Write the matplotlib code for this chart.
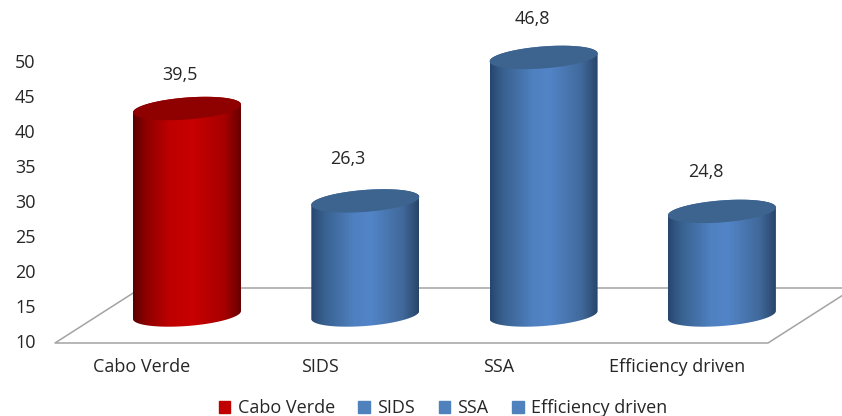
#!/usr/bin/env python3
import numpy as np
import matplotlib
matplotlib.use('Agg')
import matplotlib.pyplot as plt
from matplotlib.colors import LinearSegmentedColormap
from matplotlib.patches import Patch, PathPatch
from matplotlib.path import Path
from matplotlib.transforms import ScaledTranslation

# data
categories = ['Cabo Verde', 'SIDS', 'SSA', 'Efficiency driven']
values = [39.5, 26.3, 46.8, 24.8]
value_labels = ['39,5', '26,3', '46,8', '24,8']
y_ticks = [10, 15, 20, 25, 30, 35, 40, 45, 50]

# figure geometry, in pixels
W, H = 842, 416
LEFT, FLOOR = 55, 343
X0, DX = 142, 178.3      # first category, category spacing
PX_PER_UNIT = 7.0

plt.rcParams['font.family'] = ['Open Sans', 'DejaVu Sans']
plt.rcParams['text.color'] = '#262626'
FONT_SIZE = 13

red_cmap = LinearSegmentedColormap.from_list('red3d', [
    (0, '#5a0000'), (0.12, '#8e0000'), (0.35, '#bf0000'), (0.55, '#c80000'),
    (0.85, '#a60000'), (1, '#680000')])
blue_cmap = LinearSegmentedColormap.from_list('blue3d', [
    (0, '#27466e'), (0.12, '#38618f'), (0.4, '#4f80c0'), (0.55, '#5285c8'),
    (0.85, '#41699b'), (1, '#284569')])
bar_styles = [(red_cmap, '#8f0000'), (blue_cmap, '#3d638f'),
              (blue_cmap, '#3d638f'), (blue_cmap, '#3d638f')]
legend_colors = ['#c00000', '#4f81bd', '#4f81bd', '#4f81bd']

# depth of the chart floor and of the bar centres
BACK_DX, BACK_DY = 86 / DX, 55 / PX_PER_UNIT
BAR_DX, BAR_DY = 45 / DX, 28 / PX_PER_UNIT
HALF_W = 54 / DX
ELL_H = 11 / PX_PER_UNIT
ELL_TILT = 4 / PX_PER_UNIT

# pixel offsets of the value labels from the bar top centre
label_dx = [-7, -17, -11, -16]
label_dy = [34, 42, 38, 39]


def ellipse(cx, cy, t):
    return (cx + HALF_W * np.cos(t),
            cy + ELL_H * np.sin(t) + ELL_TILT * np.cos(t))


fig = plt.figure(figsize=(W / 100, H / 100), dpi=100)
ax = fig.add_axes([LEFT / W, 1 - FLOOR / H, (W - LEFT) / W, FLOOR / H])
xlim = ((LEFT - X0) / DX, (W - X0) / DX)
ylim = (10, 10 + FLOOR / PX_PER_UNIT)

# floor
x_front = [(LEFT - X0) / DX, (768 - X0) / DX]
floor_x = [x_front[0] + BACK_DX, x_front[0], x_front[1], x_front[1] + BACK_DX]
floor_y = [10 + BACK_DY, 10, 10, 10 + BACK_DY]
ax.plot(floor_x + [floor_x[0]], floor_y + [floor_y[0]], color='#a3a3a3',
        lw=1.1, clip_on=False, zorder=1)

# cylinders
for i, (val, (cmap, top_color)) in enumerate(zip(values, bar_styles)):
    cx = i + BAR_DX
    y_base = 10 + BAR_DY
    y_top = y_base + (val - 10)

    t_low = np.linspace(np.pi, 2 * np.pi, 60)
    t_up = np.linspace(0, np.pi, 60)
    bx, by = ellipse(cx, y_base, t_low)
    tx, ty = ellipse(cx, y_top, t_up)
    body = np.column_stack([np.r_[bx, tx], np.r_[by, ty]])
    clip = PathPatch(Path(np.vstack([body, body[0]])), transform=ax.transData,
                     fc='none', ec='none')
    ax.add_patch(clip)

    grad = np.linspace(0, 1, 256).reshape(1, -1)
    im = ax.imshow(grad, cmap=cmap, aspect='auto', zorder=2,
                   extent=[cx - HALF_W, cx + HALF_W, 10, y_top + 5])
    im.set_clip_path(clip)

    t = np.linspace(0, 2 * np.pi, 120)
    ex, ey = ellipse(cx, y_top, t)
    ax.fill(ex, ey, color=top_color, lw=0, zorder=3)

    ax.annotate(value_labels[i], (cx, y_top),
                xytext=(label_dx[i] * 0.72, label_dy[i] * 0.72),
                textcoords='offset points', ha='center', va='center',
                fontsize=FONT_SIZE)

ax.set_xlim(xlim)
ax.set_ylim(ylim)
ax.set_xticks(range(len(categories)), categories)
ax.set_yticks(y_ticks)
ax.tick_params(axis='both', length=0, labelsize=FONT_SIZE, labelcolor='#262626')
ax.tick_params(axis='y', pad=14)
ax.tick_params(axis='x', pad=11)
# y labels sit slightly above their value
up = ScaledTranslation(0, 1.5 / 72, fig.dpi_scale_trans)
for lab in ax.get_yticklabels():
    lab.set_transform(lab.get_transform() + up)
for spine in ax.spines.values():
    spine.set_visible(False)
ax.patch.set_visible(False)

handles = [Patch(color=c, label=n) for c, n in zip(legend_colors, categories)]
fig.legend(handles=handles, loc='center', bbox_to_anchor=(443 / W, 1 - 408 / H),
           ncol=4, frameon=False, fontsize=FONT_SIZE, handlelength=0.65,
           handleheight=0.65, handletextpad=0.4, columnspacing=1.3,
           borderpad=0, borderaxespad=0)

fig.savefig('out.png', dpi=100)
